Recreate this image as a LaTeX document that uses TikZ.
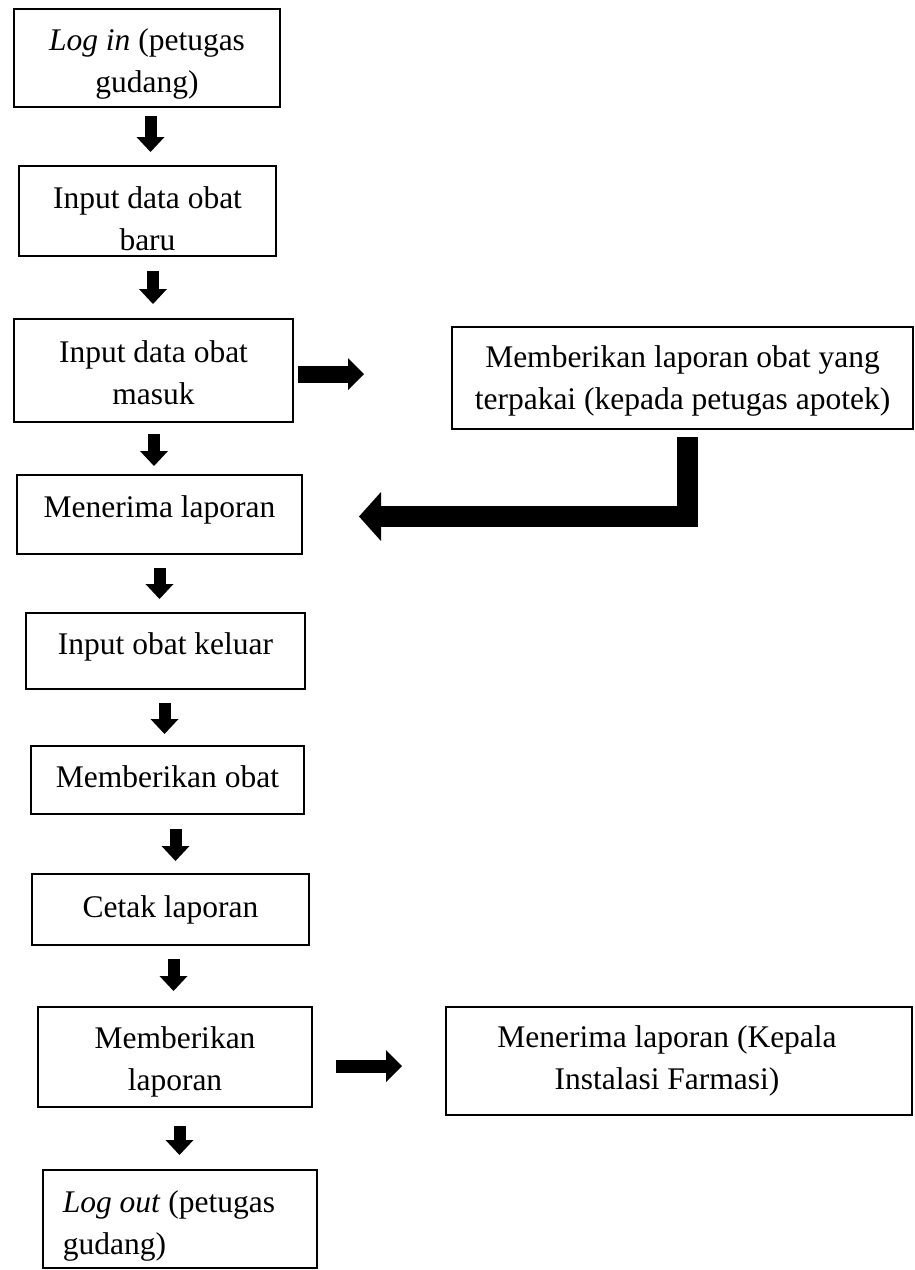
\documentclass[tikz,border=0pt]{standalone}
\usepackage{fontspec}
\setmainfont{Liberation Serif}
\usetikzlibrary{arrows.meta}
\newcommand{\firstline}[1]{\rule{0pt}{#1}}

\begin{document}
\begin{tikzpicture}[
x=1pt, y=-1pt,
block/.style={draw, line width=2pt, align=center, inner sep=0pt, font=\fontsize{31.5pt}{42pt}\selectfont},
lift/.style={text height=22pt, text depth=#1},
darrow/.style={-{Triangle[width=28pt,length=15pt,line width=0pt]}, line width=12pt},
rarrow/.style={-{Triangle[width=32pt,length=16pt,line width=0pt]}, line width=#1},
bentarrow/.style={-{Triangle[width=49pt,length=22pt,line width=0pt]}, line width=21pt}
]
\useasboundingbox (0,0) rectangle (915,1270);

\node[block, minimum width=266pt, minimum height=98pt] (m1) at (147,58) {\firstline{34pt}\textit{Log in} (petugas\\gudang)};
\node[block, minimum width=257pt, minimum height=90pt] (m2) at (147.5,211) {\firstline{38pt}Input data obat\\baru};
\node[block, minimum width=279pt, minimum height=103pt] (m3) at (153.5,370.5) {\firstline{26pt}Input data obat\\masuk};
\node[block, minimum width=461pt, minimum height=102pt] (m4) at (682.5,378) {\firstline{28pt}Memberikan laporan obat yang\\terpakai (kepada petugas apotek)};
\node[block, lift=17pt, minimum width=285pt, minimum height=79pt] (m5) at (159.5,514.5) {Menerima laporan};
\node[block, lift=15pt, minimum width=279pt, minimum height=76pt] (m6) at (165.5,651) {Input obat keluar};
\node[block, lift=7pt, minimum width=273pt, minimum height=68pt] (m7) at (167.5,780) {Memberikan obat};
\node[block, lift=6pt, minimum width=277pt, minimum height=71pt] (m8) at (170.5,909.5) {Cetak laporan};
\node[block, minimum width=274pt, minimum height=100pt] (m9) at (175,1057) {\firstline{32pt}Memberikan\\laporan};
\node[block, minimum width=466pt, minimum height=108pt] (m10) at (679,1061) {Menerima laporan (Kepala\hspace*{24pt}\\Instalasi Farmasi)\hspace*{24pt}};
\node[block, align=left, minimum width=274pt, minimum height=98pt] (m11) at (180,1219) {\firstline{36pt}\textit{Log out} (petugas\hspace*{22pt}\\gudang)};

\draw[darrow, shorten <=8pt, shorten >=13pt] ([xshift=3.5pt]m1.south) -- ([xshift=3.5pt]m1.south |- m2.north);
\draw[darrow, shorten <=14pt, shorten >=14pt] ([xshift=5.5pt]m2.south) -- ([xshift=5.5pt]m2.south |- m3.north);
\draw[darrow, shorten <=11pt, shorten >=8pt] ([xshift=0.5pt]m3.south) -- ([xshift=0.5pt]m3.south |- m5.north);
\draw[darrow, shorten <=13pt, shorten >=13pt] (m5.south) -- (m5.south |- m6.north);
\draw[darrow, shorten <=13pt, shorten >=11pt] ([xshift=-1pt]m6.south) -- ([xshift=-1pt]m6.south |- m7.north);
\draw[darrow, shorten <=14pt, shorten >=12pt] ([xshift=8pt]m7.south) -- ([xshift=8pt]m7.south |- m8.north);
\draw[darrow, shorten <=13pt, shorten >=15pt] ([xshift=3pt]m8.south) -- ([xshift=3pt]m8.south |- m9.north);
\draw[darrow, shorten <=18pt, shorten >=14pt] ([xshift=4.5pt]m9.south) -- ([xshift=4.5pt]m9.south |- m11.north);

\draw[rarrow=17pt, shorten <=4pt, shorten >=87pt] ([yshift=-3.5pt]m3.east) -- ([yshift=-3.5pt]m3.east -| m4.west);
\draw[bentarrow, shorten <=7pt, shorten >=56pt] ([xshift=4.5pt]m4.south) |- ([yshift=-2pt]m5.east);
\draw[rarrow=13pt, shorten <=23pt, shorten >=43pt] ([yshift=-9pt]m9.east) -- ([yshift=-9pt]m9.east -| m10.west);
\end{tikzpicture}
\end{document}
